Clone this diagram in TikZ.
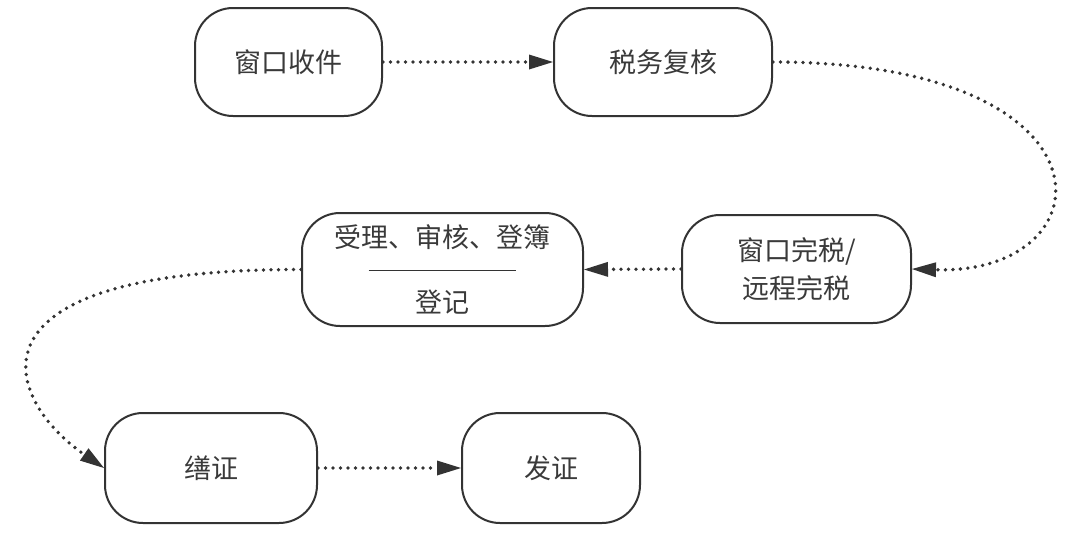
\documentclass[tikz,border=0pt]{standalone}
\usepackage{fontspec}
\newfontfamily\cjk{Noto Sans CJK SC}
\usetikzlibrary{arrows.meta}
\definecolor{ink}{HTML}{333333}
\definecolor{txt}{HTML}{3A3A3A}
\tikzset{
  stepbox/.style={draw=ink, line width=2pt, rectangle, rounded corners=38pt,
    minimum height=108pt, inner sep=0pt, align=center, text=txt,
    font=\cjk\fontsize{27}{38}\selectfont},
  flow/.style={draw=ink, line width=3.8pt, line cap=round, dash pattern=on 0pt off 7.5pt,
    -{Triangle[length=24pt,width=15pt,fill=ink,line width=0pt]}},
  rulestyle/.style={draw=ink, line width=1.6pt}
}
\begin{document}
\begin{tikzpicture}[x=1pt,y=-1pt]
\useasboundingbox (0,0) rectangle (1080,539);
\node[stepbox, minimum width=187pt] (n1) at (288.5,62) {窗口收件};
\node[stepbox, minimum width=218pt] (n2) at (663,62) {税务复核};
\node[stepbox, minimum width=229pt] (n3) at (796.5,269) {窗口完税/\\远程完税};
\node[stepbox, minimum width=281pt, minimum height=113pt] (n4) at (442.5,269.5) {受理、审核、登簿\\[27pt]登记};
\node[stepbox, minimum width=212pt, minimum height=110pt] (n5) at (211,468) {缮证};
\node[stepbox, minimum width=178pt, minimum height=110pt] (n6) at (551,468) {发证};
\draw[rulestyle] ([xshift=-74pt,yshift=-1pt]n4.center) -- ([xshift=73pt,yshift=-1pt]n4.center);
\draw[flow] (n1.east) -- (n2.west);
\draw[flow] (n2.east) .. controls (1125,62) and (1110,275) .. (n3.east);
\draw[flow] (n3.west) -- (n4.east);
\draw[flow] (n4.west) .. controls (-48,269) and (5,400) .. (n5.west);
\draw[flow] (n5.east) -- (n6.west);
\end{tikzpicture}
\end{document}
